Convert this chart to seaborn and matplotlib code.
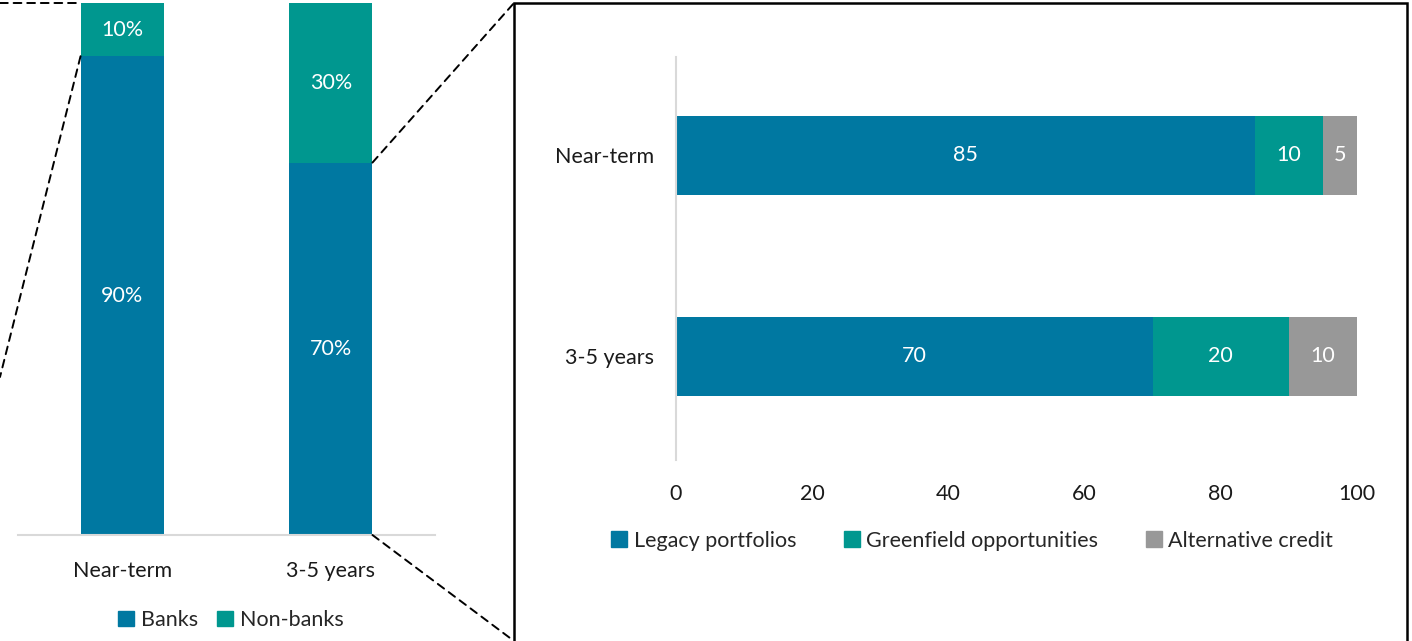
import numpy as np
import pandas as pd
import matplotlib
matplotlib.use("Agg")
import matplotlib.pyplot as plt
from matplotlib.patches import Rectangle, ConnectionPatch
import seaborn as sns

# ---- data ----
periods = ["Near-term", "3-5 years"]
banks = [90, 70]
non_banks = [10, 30]
legacy = [85, 70]
greenfield = [10, 20]
alternative = [5, 10]
x_ticks = [0, 20, 40, 60, 80, 100]

BLUE = "#0078A1"
TEAL = "#00978F"
GRAY = "#989898"

sns.set_theme(style="white")
plt.rcParams["font.family"] = ["Lato", "DejaVu Sans"]
FS = 15.5

fig = plt.figure(figsize=(14.12, 6.41), dpi=100)
W, H = 1412, 641

def ax_rect(l, t, r, b):
    return [l / W, 1 - b / H, (r - l) / W, (b - t) / H]

# ---- left: vertical stacked bars ----
axL = fig.add_axes(ax_rect(18, 3, 435, 535))
dfL = pd.DataFrame({"period": periods, "banks": banks,
                    "total": np.array(banks) + np.array(non_banks)})
sns.barplot(data=dfL, x="period", y="total", color=TEAL, ax=axL,
            width=0.4, saturation=1, linewidth=0)
sns.barplot(data=dfL, x="period", y="banks", color=BLUE, ax=axL,
            width=0.4, saturation=1, linewidth=0)
axL.set_ylim(0, 100)
axL.set_xlim(-0.5, 1.5)
axL.set_xlabel("")
axL.set_ylabel("")
axL.set_yticks([])
for s in ["top", "left", "right"]:
    axL.spines[s].set_visible(False)
axL.spines["bottom"].set_color("#D9D9D9")
axL.spines["bottom"].set_linewidth(1.5)
axL.tick_params(axis="x", length=0, pad=19, labelsize=FS, colors="#1a1a1a")
for i in range(len(periods)):
    axL.text(i, banks[i] / 2, f"{banks[i]}%", ha="center", va="center",
             color="white", fontsize=FS)
    axL.text(i, banks[i] + non_banks[i] / 2, f"{non_banks[i]}%", ha="center",
             va="center", color="white", fontsize=FS)
hL = [Rectangle((0, 0), 1, 1, color=BLUE), Rectangle((0, 0), 1, 1, color=TEAL)]
axL.legend(hL, ["Banks", "Non-banks"], loc="center",
           bbox_to_anchor=(0.51, -0.16), ncol=2, frameon=False,
           fontsize=FS, handlelength=0.75, handleheight=0.75,
           handletextpad=0.3, columnspacing=0.9)

# ---- right: horizontal stacked bars ----
axR = fig.add_axes(ax_rect(676, 57, 1357, 460))
c1 = np.array(legacy)
c2 = c1 + np.array(greenfield)
c3 = c2 + np.array(alternative)
dfR = pd.DataFrame({"period": periods, "c1": c1, "c2": c2, "c3": c3})
sns.barplot(data=dfR, y="period", x="c3", color=GRAY, ax=axR, orient="h",
            width=0.39, saturation=1, linewidth=0)
sns.barplot(data=dfR, y="period", x="c2", color=TEAL, ax=axR, orient="h",
            width=0.39, saturation=1, linewidth=0)
sns.barplot(data=dfR, y="period", x="c1", color=BLUE, ax=axR, orient="h",
            width=0.39, saturation=1, linewidth=0)
axR.set_xlim(0, 100)
axR.set_ylim(1.515, -0.49)
axR.set_xticks(x_ticks)
axR.set_xlabel("")
axR.set_ylabel("")
for s in ["top", "bottom", "right"]:
    axR.spines[s].set_visible(False)
axR.spines["left"].set_color("#D9D9D9")
axR.spines["left"].set_linewidth(1.5)
axR.tick_params(axis="x", length=0, pad=17, labelsize=FS, colors="#1a1a1a")
axR.tick_params(axis="y", length=0, pad=16, labelsize=FS, colors="#1a1a1a")
for i in range(len(periods)):
    starts = [0, c1[i], c2[i]]
    vals = [legacy[i], greenfield[i], alternative[i]]
    for s0, v in zip(starts, vals):
        axR.text(s0 + v / 2, i, f"{v}", ha="center", va="center",
                 color="white", fontsize=FS)
hR = [Rectangle((0, 0), 1, 1, color=c) for c in (BLUE, TEAL, GRAY)]
axR.legend(hR, ["Legacy portfolios", "Greenfield opportunities", "Alternative credit"],
           loc="center", bbox_to_anchor=(0.435, -0.2), ncol=3, frameon=False,
           fontsize=FS, handlelength=0.75, handleheight=0.75,
           handletextpad=0.3, columnspacing=2.2)

# ---- zoom box and connectors ----
box_l, box_t, box_r = 514 / W, 1 - 3 / H, 1407 / W
box = Rectangle((box_l, -0.2), box_r - box_l, box_t + 0.2,
                transform=fig.transFigure, fill=False, edgecolor="black",
                linewidth=1.8, clip_on=False)
fig.add_artist(box)

dash = dict(color="black", linestyle=(0, (4, 3)), linewidth=1.4)
half = 0.2
con = ConnectionPatch(xyA=(0, box_t), coordsA=fig.transFigure,
                      xyB=(0 - half, 100), coordsB=axL.transData, **dash)
fig.add_artist(con)
con = ConnectionPatch(xyA=(0 - half, banks[0]), coordsA=axL.transData,
                      xyB=(0, 1 - 377 / H), coordsB=fig.transFigure, **dash)
fig.add_artist(con)
con = ConnectionPatch(xyA=(1 + half, banks[1]), coordsA=axL.transData,
                      xyB=(box_l, box_t), coordsB=fig.transFigure, **dash)
fig.add_artist(con)
con = ConnectionPatch(xyA=(1 + half, 0), coordsA=axL.transData,
                      xyB=(box_l, 0), coordsB=fig.transFigure, **dash)
fig.add_artist(con)

fig.savefig("out.png", dpi=100)
